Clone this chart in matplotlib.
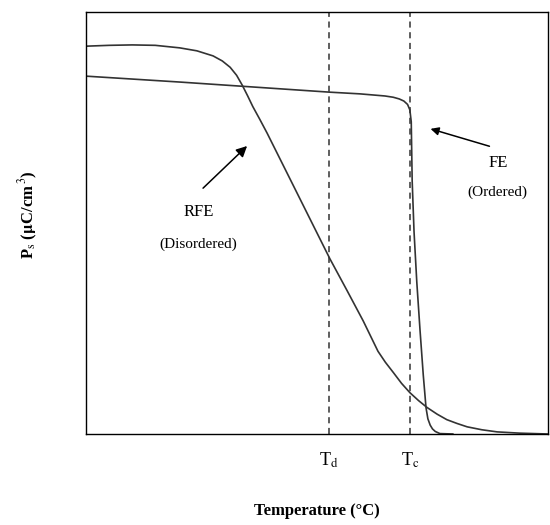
import numpy as np
import matplotlib
matplotlib.use('Agg')
import matplotlib.pyplot as plt

plt.rcParams['font.family'] = ['Liberation Serif', 'DejaVu Serif']
plt.rcParams['mathtext.fontset'] = 'stix'

# RFE (disordered) curve
rfe_x = [0, 5, 10, 15, 20.3, 24, 27.5, 29.5, 31.2, 32.6, 33.8, 35, 36.1, 37.6, 39.2,
         45.0, 52.8, 56.5, 60.0, 63.2, 64.8, 66.5, 68.3, 70.1, 72, 73.8, 76, 78.1,
         80.3, 82.5, 85.7, 89.0, 93.9, 100]
rfe_y = [91.9, 92.1, 92.2, 92.1, 91.5, 90.8, 89.6, 88.4, 86.9, 85.0, 82.7, 80.1, 77.6, 74.6, 71.3,
         58.6, 41.5, 34.0, 26.8, 19.6, 17.0, 14.6, 12.0, 9.8, 7.9, 6.3, 4.7, 3.4,
         2.5, 1.7, 1.0, 0.5, 0.2, 0.0]

# FE (ordered) curve
fe_x = [0, 20.3, 52.8, 59.3, 64.7, 66.5, 67.8, 68.8, 69.6, 70.1, 70.4, 70.6, 71.0, 71.6,
        72.3, 73.0, 73.6, 74.0, 74.5, 75.0, 75.6, 76.6, 79.4]
fe_y = [84.8, 83.4, 81.0, 80.6, 80.1, 79.8, 79.4, 78.9, 78.1, 76.8, 74.0, 60.0, 48.0, 36.0,
        24.6, 14.0, 6.2, 3.6, 2.1, 1.2, 0.6, 0.1, 0.0]

t_pos = [52.6, 70.1]
t_labels = [r'T$_{\rm d}$', r'T$_{\rm c}$']

fig = plt.figure(figsize=(5.5, 5.25), dpi=100)
ax = fig.add_axes([86 / 550, 91 / 525, 462 / 550, 422 / 525])

ax.plot(rfe_x, rfe_y, color='#333333', lw=1.2)
ax.plot(fe_x, fe_y, color='#333333', lw=1.2)
for t in t_pos:
    ax.axvline(t, color='#333333', lw=1.1, ls=(0, (4, 3)))

ax.set_xlim(0, 100)
ax.set_ylim(0, 100)
ax.set_xticks(t_pos)
ax.set_xticklabels(t_labels, fontsize=13)
ax.tick_params(axis='x', length=0, pad=12)
ax.set_yticks([])
for s in ax.spines.values():
    s.set_linewidth(1.0)

ax.set_xlabel('Temperature (°C)', fontsize=12, fontweight='bold', labelpad=24)
ax.set_ylabel(r'P$_{\rm s}$ ($\mathbf{\mu}$C/cm$^{\,3}$)', fontsize=12, fontweight='bold')
ax.yaxis.set_label_coords(-0.099, 0.52)

# annotations
ax.annotate('', xy=(35.3, 68.7), xytext=(24.9, 57.8),
            arrowprops=dict(arrowstyle='-|>', color='black', lw=1.1, mutation_scale=16))
ax.text(24.3, 52.5, 'RFE', fontsize=12, ha='center', va='center')
ax.text(24.3, 45.0, '(Disordered)', fontsize=11, ha='center', va='center')

ax.annotate('', xy=(74.0, 72.5), xytext=(87.9, 68.0),
            arrowprops=dict(arrowstyle='-|>', color='black', lw=1.1, mutation_scale=12))
ax.text(89.2, 64.2, 'FE', fontsize=12, ha='center', va='center')
ax.text(89.0, 57.3, '(Ordered)', fontsize=11, ha='center', va='center')

fig.savefig('out.png', dpi=100)
